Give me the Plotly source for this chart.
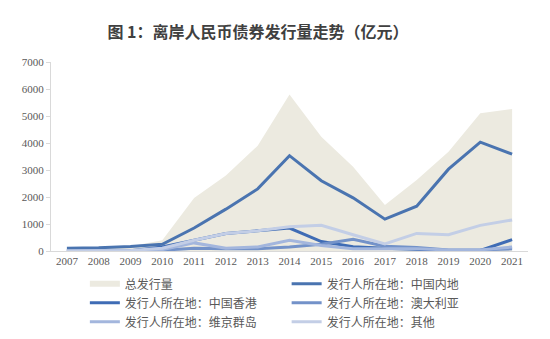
import plotly.graph_objects as go

years = [str(y) for y in range(2007, 2022)]
total = [100, 130, 180, 400, 1960, 2800, 3900, 5800, 4230, 3120, 1700, 2630, 3680, 5100, 5260]
mainland = [100, 120, 170, 250, 850, 1550, 2300, 3530, 2600, 1970, 1180, 1660, 3030, 4030, 3590]
hongkong = [0, 0, 10, 150, 400, 650, 750, 850, 350, 160, 100, 60, 20, 20, 420]
australia = [0, 0, 0, 30, 100, 80, 80, 150, 250, 430, 180, 130, 40, 40, 80]
virgin = [0, 0, 0, 50, 300, 100, 150, 400, 200, 80, 80, 80, 40, 40, 150]
other = [0, 0, 20, 100, 400, 650, 750, 900, 950, 600, 260, 650, 600, 950, 1150]

names = ["总发行量", "发行人所在地：中国内地", "发行人所在地：中国香港",
         "发行人所在地：澳大利亚", "发行人所在地：维京群岛", "发行人所在地：其他"]

fig = go.Figure()
fig.add_trace(go.Scatter(x=years, y=total, name=names[0], mode="none", fill="tozeroy",
                         fillcolor="#ECEAE0", legend="legend"))
line_specs = [
    (mainland, names[1], "#4A74B0", 3, "legend2"),
    (hongkong, names[2], "#3F6CB5", 3, "legend"),
    (australia, names[3], "#7392C9", 3, "legend2"),
    (virgin, names[4], "#A3B6DD", 3, "legend"),
    (other, names[5], "#C3CEE6", 3, "legend2"),
]
for ys, nm, col, w, lg in line_specs:
    fig.add_trace(go.Scatter(x=years, y=ys, name=nm, mode="lines",
                             line=dict(color=col, width=w), legend=lg))

legfont = dict(family="Noto Sans CJK SC", size=12, color="#595959")
fig.update_layout(
    width=550, height=339,
    margin=dict(l=51, r=22, t=62, b=88, autoexpand=False),
    paper_bgcolor="white", plot_bgcolor="white",
    title=dict(text="图 1：离岸人民币债券发行量走势（亿元）", x=258 / 550, xanchor="center",
               y=1 - 32 / 339, yanchor="middle",
               font=dict(family="Noto Sans CJK SC", size=16, color="#404040", weight="bold")),
    xaxis=dict(type="category", range=[-0.5, 14.5], showgrid=False, showline=True,
               linecolor="#D9D9D9", linewidth=1, ticks="",
               tickfont=dict(family="Liberation Serif", size=11, color="#595959")),
    yaxis=dict(range=[0, 7000], dtick=1000, showgrid=False, showline=True,
               linecolor="#D9D9D9", linewidth=1, ticks="outside", ticklen=4,
               tickcolor="#D9D9D9", zeroline=False,
               tickfont=dict(family="Liberation Serif", size=11, color="#595959")),
    legend=dict(x=0.071, xanchor="left", y=-0.097, yanchor="top", orientation="v",
                font=legfont, bgcolor="rgba(0,0,0,0)", tracegroupgap=0),
    legend2=dict(x=0.494, xanchor="left", y=-0.097, yanchor="top", orientation="v",
                 font=legfont, bgcolor="rgba(0,0,0,0)", tracegroupgap=0),
)
fig.write_html("out.html")
